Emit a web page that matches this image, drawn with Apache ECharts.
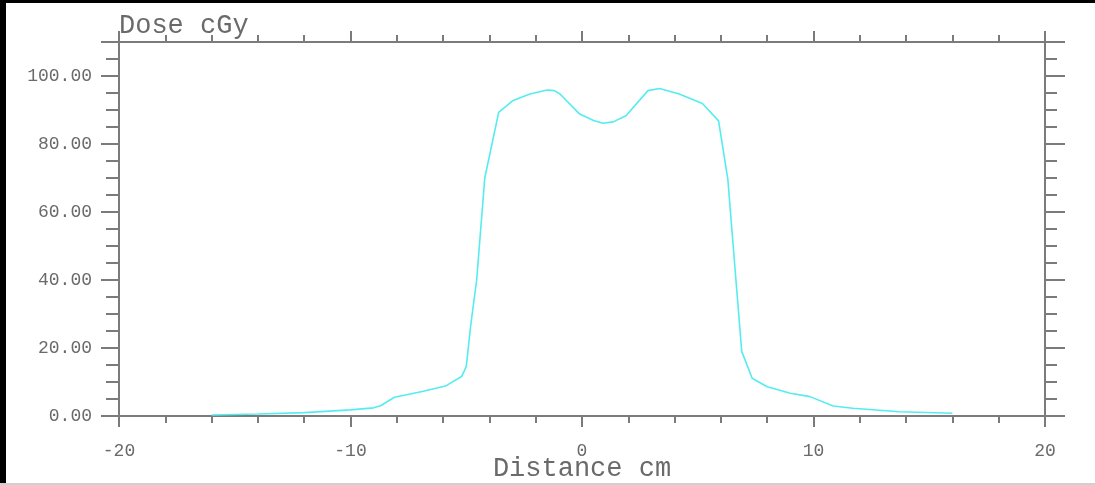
<!DOCTYPE html>
<html>
<head>
<meta charset="utf-8">
<title>Dose profile</title>
<script src="https://cdn.jsdelivr.net/npm/echarts@6/dist/echarts.min.js"></script>
<style>
  html, body { margin: 0; padding: 0; background: #fff; }
  #chart { width: 1095px; height: 485px; }
</style>
</head>
<body>
<div id="chart"></div>
<script>
// distance off axis (cm) and dose (cGy)
const distance = [-16, -14, -12, -10, -9, -8.7, -8.1, -6.9, -5.9, -5.2, -5.0, -4.8, -4.55, -4.2,
  -3.6, -3.0, -2.25, -1.5, -1.2, -0.95, -0.1, 0.5, 0.9, 1.35, 1.9, 2.85, 3.35, 4.2, 5.2, 5.9,
  6.3, 6.65, 6.9, 7.35, 8.0, 9.0, 9.85, 10.85, 11.7, 13.7, 16.0];
const dose = [0.3, 0.6, 1.0, 1.8, 2.4, 3.0, 5.5, 7.2, 8.8, 11.6, 14.5, 27, 40, 70,
  89.3, 92.7, 94.7, 95.9, 95.7, 94.7, 88.8, 86.9, 86.1, 86.5, 88.3, 95.7, 96.3, 94.7, 91.9, 86.8,
  69.6, 40, 19, 11.1, 8.6, 6.7, 5.7, 2.95, 2.3, 1.27, 0.8];

const xRange = [-20, 20];
const yRange = [0, 110];

const axisGray = '#7b7b7b';
const textGray = '#6a6a6a';
const mono = '"Liberation Mono", "DejaVu Sans Mono", monospace';

const myChart = echarts.init(document.getElementById('chart'));

const frameLine = { show: true, onZero: false, lineStyle: { color: axisGray, width: 2 } };

const option = {
  animation: false,
  backgroundColor: '#fff',
  grid: { left: 119, right: 50, top: 42, bottom: 69, outerBoundsMode: 'none', containLabel: false },
  xAxis: [
    {
      type: 'value',
      position: 'bottom',
      min: xRange[0], max: xRange[1], interval: 10,
      name: 'Distance cm',
      nameLocation: 'middle',
      nameGap: 53,
      nameMoveOverlap: false,
      nameTextStyle: { fontFamily: mono, fontSize: 27, color: textGray, verticalAlign: 'middle' },
      axisLine: frameLine,
      axisTick: { show: true, length: 11, lineStyle: { color: axisGray, width: 2 } },
      minorTick: { show: true, splitNumber: 5, length: 7, lineStyle: { color: axisGray, width: 2 } },
      axisLabel: { margin: 26, fontFamily: mono, fontSize: 18, color: textGray },
      splitLine: { show: false }
    },
    {
      type: 'value',
      position: 'top',
      min: xRange[0], max: xRange[1], interval: 10,
      axisLine: frameLine,
      axisTick: { show: true, length: 11, lineStyle: { color: axisGray, width: 2 } },
      minorTick: { show: true, splitNumber: 5, length: 7, lineStyle: { color: axisGray, width: 2 } },
      axisLabel: { show: false },
      splitLine: { show: false }
    }
  ],
  yAxis: [
    {
      type: 'value',
      position: 'left',
      min: yRange[0], max: yRange[1], interval: 20,
      name: 'Dose cGy',
      nameLocation: 'end',
      nameGap: 3,
      nameTextStyle: { fontFamily: mono, fontSize: 27, color: textGray, align: 'left', verticalAlign: 'bottom' },
      axisLine: frameLine,
      axisTick: { show: true, length: 18, lineStyle: { color: axisGray, width: 2 } },
      minorTick: { show: true, splitNumber: 4, length: 13, lineStyle: { color: axisGray, width: 2 } },
      axisLabel: {
        margin: 27, fontFamily: mono, fontSize: 18, color: textGray,
        showMaxLabel: false,
        formatter: v => v.toFixed(2)
      },
      splitLine: { show: false }
    },
    {
      type: 'value',
      position: 'right',
      min: yRange[0], max: yRange[1], interval: 20,
      axisLine: frameLine,
      axisTick: { show: true, length: 20, lineStyle: { color: axisGray, width: 2 } },
      minorTick: { show: true, splitNumber: 4, length: 12, lineStyle: { color: axisGray, width: 2 } },
      axisLabel: { show: false },
      splitLine: { show: false }
    }
  ],
  series: [
    {
      name: 'Dose',
      type: 'line',
      xAxisIndex: 0,
      yAxisIndex: 0,
      symbol: 'none',
      smooth: false,
      lineStyle: { color: '#55ecf0', width: 1.6 },
      data: distance.map((d, i) => [d, dose[i]])
    }
  ],
  graphic: [
    // picture frame: heavy black on the left and top, thin grey at the bottom
    { type: 'rect', left: 0, top: 0, shape: { width: 6, height: 485 }, style: { fill: '#000' }, silent: true },
    { type: 'rect', left: 0, top: 0, shape: { width: 1095, height: 3 }, style: { fill: '#000' }, silent: true },
    { type: 'rect', left: 0, top: 483, shape: { width: 1095, height: 2 }, style: { fill: '#d0d0d0' }, silent: true }
  ]
};

myChart.setOption(option);
window.addEventListener('resize', () => myChart.resize());
</script>
</body>
</html>
